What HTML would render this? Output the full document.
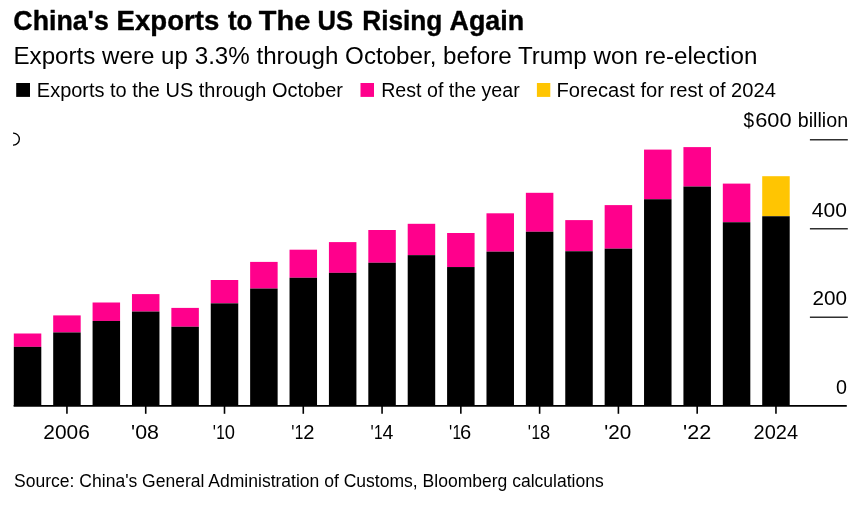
<!DOCTYPE html>
<html lang="en">
<head>
<meta charset="utf-8">
<title>China's Exports to The US Rising Again</title>
<style>
html,body{margin:0;padding:0;background:#fff;}
body{width:860px;height:513px;overflow:hidden;font-family:"Liberation Sans",Arial,Helvetica,sans-serif;}
svg{display:block;}
text{font-family:"Liberation Sans",Arial,Helvetica,sans-serif;fill:#000;white-space:pre;}
</style>
</head>
<body>
<svg width="860" height="513" viewBox="0 0 860 513">
<rect x="0" y="0" width="860" height="513" fill="#ffffff"/>
<text y="29.8" font-size="28.1" font-weight="bold" stroke="#000" stroke-width="0.4" stroke-linejoin="round"><tspan x="13.35" textLength="95.45" lengthAdjust="spacingAndGlyphs">China&#39;s</tspan> <tspan x="116.62" textLength="102.69" lengthAdjust="spacingAndGlyphs">Exports</tspan> <tspan x="228.00" textLength="24.45" lengthAdjust="spacingAndGlyphs">to</tspan> <tspan x="258.80" textLength="51.44" lengthAdjust="spacingAndGlyphs">The</tspan> <tspan x="317.59" textLength="35.59" lengthAdjust="spacingAndGlyphs">US</tspan> <tspan x="362.27" textLength="80.12" lengthAdjust="spacingAndGlyphs">Rising</tspan> <tspan x="449.60" textLength="74.51" lengthAdjust="spacingAndGlyphs">Again</tspan></text>
<text y="63.5" font-size="23" font-weight="normal"><tspan x="13.45" textLength="743.88" lengthAdjust="spacingAndGlyphs">Exports were up 3.3% through October, before Trump won re-election</tspan></text>
<rect x="16.2" y="83.0" width="13.8" height="13.9" fill="#000"/>
<text y="96.7" font-size="19.6" font-weight="normal"><tspan x="36.88" textLength="306.03" lengthAdjust="spacingAndGlyphs">Exports to the US through October</tspan></text>
<rect x="360.5" y="83.0" width="13.5" height="13.9" fill="#ff008c"/>
<text y="96.7" font-size="19.6" font-weight="normal"><tspan x="381.20" textLength="138.53" lengthAdjust="spacingAndGlyphs">Rest of the year</tspan></text>
<rect x="536.9" y="83.0" width="13.4" height="13.9" fill="#ffc502"/>
<text y="96.7" font-size="19.6" font-weight="normal"><tspan x="556.57" textLength="219.32" lengthAdjust="spacingAndGlyphs">Forecast for rest of 2024</tspan></text>
<clipPath id="plot"><rect x="13.1" y="120" width="834" height="290"/></clipPath>
<circle cx="13.4" cy="139.1" r="5.95" fill="none" stroke="#000" stroke-width="1.35" clip-path="url(#plot)"/>
<rect x="13.80" y="333.50" width="27.5" height="13.35" fill="#ff008c"/><rect x="13.80" y="346.85" width="27.5" height="58.95" fill="#000"/>
<rect x="53.19" y="315.40" width="27.5" height="17.05" fill="#ff008c"/><rect x="53.19" y="332.45" width="27.5" height="73.35" fill="#000"/>
<rect x="92.58" y="302.50" width="27.5" height="18.45" fill="#ff008c"/><rect x="92.58" y="320.95" width="27.5" height="84.85" fill="#000"/>
<rect x="131.97" y="294.10" width="27.5" height="17.45" fill="#ff008c"/><rect x="131.97" y="311.55" width="27.5" height="94.25" fill="#000"/>
<rect x="171.36" y="307.90" width="27.5" height="18.85" fill="#ff008c"/><rect x="171.36" y="326.75" width="27.5" height="79.05" fill="#000"/>
<rect x="210.75" y="280.00" width="27.5" height="23.35" fill="#ff008c"/><rect x="210.75" y="303.35" width="27.5" height="102.45" fill="#000"/>
<rect x="250.14" y="261.90" width="27.5" height="26.65" fill="#ff008c"/><rect x="250.14" y="288.55" width="27.5" height="117.25" fill="#000"/>
<rect x="289.53" y="249.70" width="27.5" height="28.05" fill="#ff008c"/><rect x="289.53" y="277.75" width="27.5" height="128.05" fill="#000"/>
<rect x="328.92" y="242.10" width="27.5" height="30.75" fill="#ff008c"/><rect x="328.92" y="272.85" width="27.5" height="132.95" fill="#000"/>
<rect x="368.31" y="230.00" width="27.5" height="32.75" fill="#ff008c"/><rect x="368.31" y="262.75" width="27.5" height="143.05" fill="#000"/>
<rect x="407.70" y="223.80" width="27.5" height="31.35" fill="#ff008c"/><rect x="407.70" y="255.15" width="27.5" height="150.65" fill="#000"/>
<rect x="447.09" y="233.00" width="27.5" height="34.05" fill="#ff008c"/><rect x="447.09" y="267.05" width="27.5" height="138.75" fill="#000"/>
<rect x="486.48" y="213.30" width="27.5" height="38.35" fill="#ff008c"/><rect x="486.48" y="251.65" width="27.5" height="154.15" fill="#000"/>
<rect x="525.87" y="192.80" width="27.5" height="38.95" fill="#ff008c"/><rect x="525.87" y="231.75" width="27.5" height="174.05" fill="#000"/>
<rect x="565.26" y="220.10" width="27.5" height="31.15" fill="#ff008c"/><rect x="565.26" y="251.25" width="27.5" height="154.55" fill="#000"/>
<rect x="604.65" y="205.10" width="27.5" height="43.55" fill="#ff008c"/><rect x="604.65" y="248.65" width="27.5" height="157.15" fill="#000"/>
<rect x="644.04" y="149.60" width="27.5" height="49.65" fill="#ff008c"/><rect x="644.04" y="199.25" width="27.5" height="206.55" fill="#000"/>
<rect x="683.43" y="147.10" width="27.5" height="39.45" fill="#ff008c"/><rect x="683.43" y="186.55" width="27.5" height="219.25" fill="#000"/>
<rect x="722.82" y="183.60" width="27.5" height="38.65" fill="#ff008c"/><rect x="722.82" y="222.25" width="27.5" height="183.55" fill="#000"/>
<rect x="762.21" y="176.20" width="27.5" height="40.05" fill="#ffc502"/><rect x="762.21" y="216.25" width="27.5" height="189.55" fill="#000"/>
<line x1="809.9" x2="847.8" y1="139.8" y2="139.8" stroke="#303030" stroke-width="1.6"/>
<line x1="809.9" x2="847.8" y1="228.7" y2="228.7" stroke="#303030" stroke-width="1.6"/>
<line x1="809.9" x2="847.8" y1="317.2" y2="317.2" stroke="#303030" stroke-width="1.6"/>
<line x1="13.6" x2="846.8" y1="405.85" y2="405.85" stroke="#000" stroke-width="1.8"/>
<line x1="66.94" x2="66.94" y1="405.8" y2="413.8" stroke="#000" stroke-width="1.6"/><text y="438.8" font-size="19.6" font-weight="normal"><tspan x="43.30" textLength="46.59" lengthAdjust="spacingAndGlyphs">2006</tspan></text>
<line x1="145.72" x2="145.72" y1="405.8" y2="413.8" stroke="#000" stroke-width="1.6"/><text y="438.8" font-size="19.6" font-weight="normal"><tspan x="131.11" textLength="27.88" lengthAdjust="spacingAndGlyphs">&#39;08</tspan></text>
<line x1="224.50" x2="224.50" y1="405.8" y2="413.8" stroke="#000" stroke-width="1.6"/><text y="438.8" font-size="19.6"><tspan x="212.70" textLength="3.18" lengthAdjust="spacingAndGlyphs">&#39;</tspan><tspan x="216.26" textLength="8.60" lengthAdjust="spacingAndGlyphs">1</tspan><tspan x="224.75" textLength="10.20" lengthAdjust="spacingAndGlyphs">0</tspan></text>
<line x1="303.28" x2="303.28" y1="405.8" y2="413.8" stroke="#000" stroke-width="1.6"/><text y="438.8" font-size="19.6"><tspan x="291.20" textLength="3.18" lengthAdjust="spacingAndGlyphs">&#39;</tspan><tspan x="294.76" textLength="8.60" lengthAdjust="spacingAndGlyphs">1</tspan><tspan x="303.25" textLength="11.22" lengthAdjust="spacingAndGlyphs">2</tspan></text>
<line x1="382.06" x2="382.06" y1="405.8" y2="413.8" stroke="#000" stroke-width="1.6"/><text y="438.8" font-size="19.6"><tspan x="370.40" textLength="3.18" lengthAdjust="spacingAndGlyphs">&#39;</tspan><tspan x="373.96" textLength="8.60" lengthAdjust="spacingAndGlyphs">1</tspan><tspan x="382.45" textLength="10.90" lengthAdjust="spacingAndGlyphs">4</tspan></text>
<line x1="460.84" x2="460.84" y1="405.8" y2="413.8" stroke="#000" stroke-width="1.6"/><text y="438.8" font-size="19.6"><tspan x="449.00" textLength="3.18" lengthAdjust="spacingAndGlyphs">&#39;</tspan><tspan x="452.56" textLength="8.60" lengthAdjust="spacingAndGlyphs">1</tspan><tspan x="460.02" textLength="11.22" lengthAdjust="spacingAndGlyphs">6</tspan></text>
<line x1="539.62" x2="539.62" y1="405.8" y2="413.8" stroke="#000" stroke-width="1.6"/><text y="438.8" font-size="19.6"><tspan x="527.85" textLength="3.18" lengthAdjust="spacingAndGlyphs">&#39;</tspan><tspan x="531.41" textLength="8.60" lengthAdjust="spacingAndGlyphs">1</tspan><tspan x="539.90" textLength="10.20" lengthAdjust="spacingAndGlyphs">8</tspan></text>
<line x1="618.40" x2="618.40" y1="405.8" y2="413.8" stroke="#000" stroke-width="1.6"/><text y="438.8" font-size="19.6" font-weight="normal"><tspan x="604.34" textLength="26.95" lengthAdjust="spacingAndGlyphs">&#39;20</tspan></text>
<line x1="697.18" x2="697.18" y1="405.8" y2="413.8" stroke="#000" stroke-width="1.6"/><text y="438.8" font-size="19.6" font-weight="normal"><tspan x="683.10" textLength="28.09" lengthAdjust="spacingAndGlyphs">&#39;22</tspan></text>
<line x1="775.96" x2="775.96" y1="405.8" y2="413.8" stroke="#000" stroke-width="1.6"/><text y="438.8" font-size="19.6" font-weight="normal"><tspan x="753.60" textLength="44.49" lengthAdjust="spacingAndGlyphs">2024</tspan></text>
<text y="127.0" font-size="19.6"><tspan x="743.50" textLength="10.60" lengthAdjust="spacingAndGlyphs">$</tspan><tspan x="755.19" textLength="36.40" lengthAdjust="spacingAndGlyphs">600</tspan> <tspan x="797.80" textLength="50.30" lengthAdjust="spacingAndGlyphs">billion</tspan></text>
<text y="216.6" font-size="19.6" font-weight="normal"><tspan x="811.80" textLength="35.19" lengthAdjust="spacingAndGlyphs">400</tspan></text>
<text y="305.2" font-size="19.6" font-weight="normal"><tspan x="812.40" textLength="34.59" lengthAdjust="spacingAndGlyphs">200</tspan></text>
<text y="393.9" font-size="19.6" font-weight="normal"><tspan x="836.00" textLength="11.00" lengthAdjust="spacingAndGlyphs">0</tspan></text>
<text y="487.0" font-size="17.5" font-weight="normal"><tspan x="14.10" textLength="589.65" lengthAdjust="spacingAndGlyphs">Source: China&#39;s General Administration of Customs, Bloomberg calculations</tspan></text>
</svg>
</body>
</html>
